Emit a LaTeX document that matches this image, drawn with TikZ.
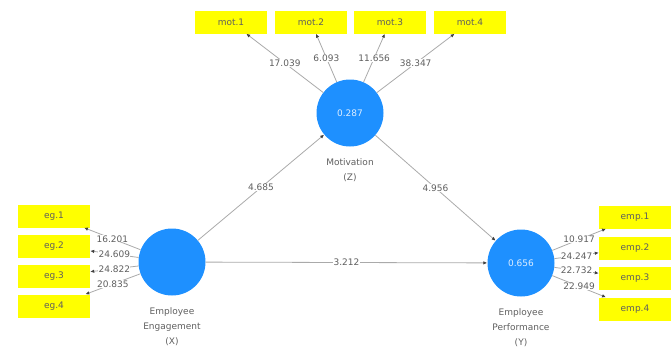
\documentclass[tikz,border=0pt]{standalone}
\usepackage{fontspec}
\setmainfont{DejaVu Sans}
\usepackage{xcolor}
\usetikzlibrary{arrows.meta,positioning}
\definecolor{lvblue}{RGB}{30,144,255}
\definecolor{ylbox}{RGB}{255,255,0}
\definecolor{txtgray}{RGB}{95,95,95}
\definecolor{linegray}{RGB}{170,170,170}

\begin{document}
\begin{tikzpicture}[x=1pt,y=-1pt,
  font=\fontsize{9}{15}\selectfont, text=txtgray,
  latent/.style={circle,fill=lvblue,minimum size=67pt,inner sep=0pt,text=white!85!lvblue},
  indic/.style={fill=ylbox,minimum width=72pt,minimum height=23pt,inner sep=0pt},
  path/.style={draw=linegray,line width=0.8pt,-{Latex[length=4pt,width=3.5pt,color=black!75]}},
  val/.style={fill=white,inner sep=0.3pt}]
  \useasboundingbox (0,0) rectangle (671,359);
            % latent variables
            \node[latent] (mot) at (350,113) {0.287};
            \node[latent] (ee) at (172,262) {};
            \node[latent] (ep) at (521,263) {0.656};
            \node[below=8pt of mot,align=center] (motlbl) {Motivation\\(Z)};
            \node[below=8pt of ee,align=center] (eelbl) {Employee\\Engagement\\(X)};
            \node[below=8pt of ep,align=center] (eplbl) {Employee\\Performance\\(Y)};
            % indicators
            \node[indic] (m1) at (231,22) {mot.1};
            \node[indic] (m2) at (311,22) {mot.2};
            \node[indic] (m3) at (390,22) {mot.3};
            \node[indic] (m4) at (470,22) {mot.4};
            \node[indic] (e1) at (54,216) {eg.1};
            \node[indic] (e2) at (54,246) {eg.2};
            \node[indic] (e3) at (54,276) {eg.3};
            \node[indic] (e4) at (54,306) {eg.4};
            \node[indic] (p1) at (635,217) {emp.1};
            \node[indic] (p2) at (635,248) {emp.2};
            \node[indic] (p3) at (635,278) {emp.3};
            \node[indic] (p4) at (635,309) {emp.4};
            % outer paths
            \draw[path] (mot) -- (m1) node[val,pos=0.5] {17.039};
            \draw[path] (mot) -- (m2) node[val,pos=0.5] {6.093};
            \draw[path] (mot) -- (m3) node[val,pos=0.5] {11.656};
            \draw[path] (mot) -- (m4) node[val,pos=0.5] {38.347};
            \draw[path] (ee) -- (e1) node[val,pos=0.5] {16.201};
            \draw[path] (ee) -- (e2) node[val,pos=0.5] {24.609};
            \draw[path] (ee) -- (e3) node[val,pos=0.5] {24.822};
            \draw[path] (ee) -- (e4) node[val,pos=0.5] {20.835};
            \draw[path] (ep) -- (p1) node[val,pos=0.5] {10.917};
            \draw[path] (ep) -- (p2) node[val,pos=0.5] {24.247};
            \draw[path] (ep) -- (p3) node[val,pos=0.5] {22.732};
            \draw[path] (ep) -- (p4) node[val,pos=0.5] {22.949};
            % inner paths
            \draw[path] (ee) -- (mot) node[val,pos=0.5] {4.685};
            \draw[path] (mot) -- (ep) node[val,pos=0.5] {4.956};
            \draw[path] (ee) -- (ep) node[val,pos=0.5] {3.212};
        \end{tikzpicture}
\end{document}
